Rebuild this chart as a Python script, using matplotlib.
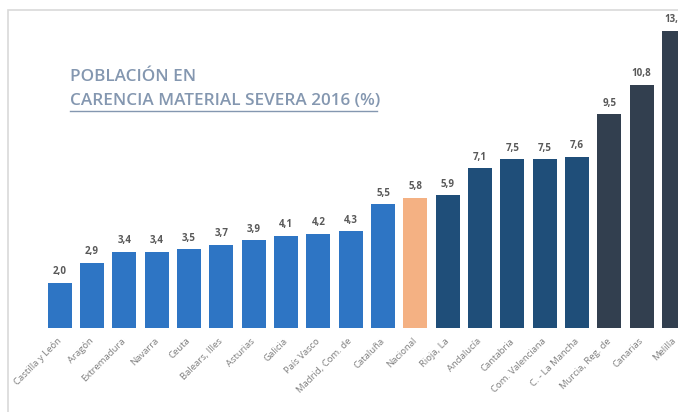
import matplotlib
matplotlib.use("Agg")
import matplotlib.pyplot as plt
from matplotlib.patches import Rectangle
from matplotlib.transforms import ScaledTranslation

# data
regions = ["Castilla y León", "Aragón", "Extremadura", "Navarra", "Ceuta",
           "Balears, Illes", "Asturias", "Galicia", "País Vasco", "Madrid, Com. de",
           "Cataluña", "Nacional", "Rioja, La", "Andalucía", "Cantabria",
           "Com. Valenciana", "C. - La Mancha", "Murcia, Reg. de", "Canarias", "Melilla"]
values = [2.0, 2.9, 3.4, 3.4, 3.5, 3.7, 3.9, 4.1, 4.2, 4.3,
          5.5, 5.8, 5.9, 7.1, 7.5, 7.5, 7.6, 9.5, 10.8, 13.2]
groups = ["low"] * 11 + ["nat"] + ["mid"] * 5 + ["high"] * 3

colours = {"low": "#2E75C4", "nat": "#F4B183", "mid": "#1F4E79", "high": "#323F4F"}

W, H = 678, 412
fig = plt.figure(figsize=(W / 100, H / 100), dpi=100)

# light frame around the chart area (runs off right/bottom)
fig.patches.append(Rectangle((8 / W, -0.1), 1.2, (H - 10) / H + 0.1,
                             transform=fig.transFigure, fill=False,
                             edgecolor="#D9D9D9", linewidth=1.2))

# axes: baseline at 328px, 22.5 px per unit, bar pitch 32.33px starting at x=59.7
base = 328
x0, pitch = 59.7, 32.33
ax = fig.add_axes([0, (H - base) / H, 1, base / H])
ax.set_ylim(0, base / 22.5)
ax.set_xlim(-x0 / pitch, (W - x0) / pitch)

x = list(range(len(values)))
ax.bar(x, values, width=0.74, color=[colours[g] for g in groups], zorder=2)

for xi, v in zip(x, values):
    ax.text(xi, v + 0.25, f"{v:.1f}".replace(".", ","), ha="center", va="bottom",
            fontsize=7, fontweight="bold", color="#595959", family="Open Sans",
            clip_on=False)

ax.set_xticks(x)
ax.set_xticklabels(regions, rotation=45, ha="right", rotation_mode="anchor",
                   fontsize=6.8, color="#7F7F7F", family="Open Sans")
ax.tick_params(axis="x", length=0, pad=6)
shift = ScaledTranslation(-3 / 100, 0, fig.dpi_scale_trans)
for lab in ax.get_xticklabels():
    lab.set_transform(lab.get_transform() + shift)
ax.set_yticks([])
for s in ax.spines.values():
    s.set_visible(False)
ax.patch.set_alpha(0)

# title block
title_col = "#8497B0"
fig.text(70 / W, 1 - 77 / H, "POBLACIÓN EN", fontsize=12.3, fontweight="semibold",
         color=title_col, family="Open Sans", va="center")
fig.text(70 / W, 1 - 101 / H, "CARENCIA MATERIAL SEVERA 2016 (%)", fontsize=12.3,
         fontweight="semibold", color=title_col, family="Open Sans", va="center")
fig.add_artist(plt.Line2D([70 / W, 377 / W], [1 - 111 / H, 1 - 111 / H],
                          transform=fig.transFigure, color=title_col, linewidth=1))

fig.savefig("out.png", dpi=100)
